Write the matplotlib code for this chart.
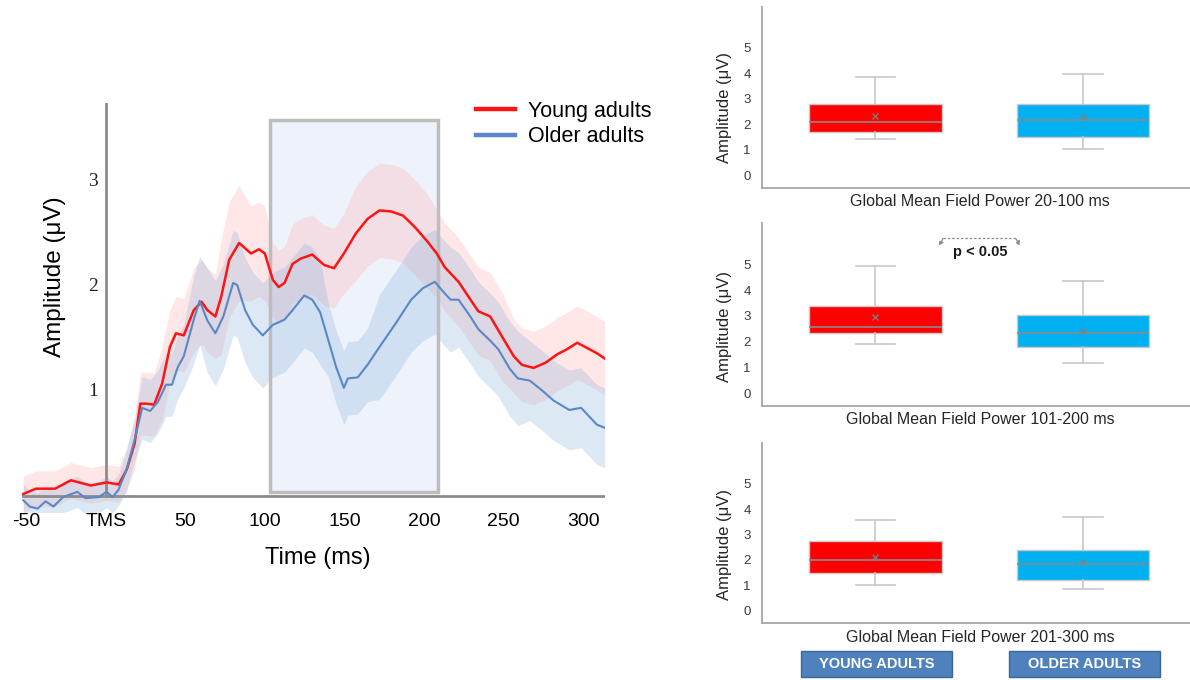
import numpy as np
import matplotlib
matplotlib.use('Agg')
import matplotlib.pyplot as plt
from matplotlib.patches import Rectangle

plt.rcParams['font.family'] = ['Liberation Sans', 'DejaVu Sans']

# ---- TMS-evoked GMFP time course ----
young_t = [-52, -44, -32, -22, -9.5, 0.4, 8, 13, 18, 21.6, 25.3, 30.3, 35.3, 40.2, 44,
           48.9, 55.2, 60.1, 63.8, 68.8, 72.5, 77.5, 83.7, 91.2, 96.2, 99.9, 104.9, 108.6,
           112.3, 117.3, 122.3, 129.7, 137.2, 143.4, 149.6, 157.1, 164.5, 172, 179.4, 186.9,
           194.3, 201.8, 208, 213, 221.7, 234.1, 241.6, 249, 256.5, 261.5, 268.9, 276.4,
           283.8, 290.1, 296.3, 301.3, 308.7, 313.6]
young_v = [0.02, 0.07, 0.07, 0.15, 0.10, 0.13, 0.11, 0.25, 0.50, 0.88, 0.88, 0.87, 1.07,
           1.42, 1.55, 1.53, 1.77, 1.85, 1.77, 1.71, 1.90, 2.25, 2.41, 2.31, 2.35, 2.31, 2.06,
           1.99, 2.03, 2.21, 2.26, 2.30, 2.20, 2.17, 2.31, 2.50, 2.64, 2.72, 2.71, 2.67, 2.56,
           2.43, 2.31, 2.18, 2.04, 1.76, 1.71, 1.52, 1.33, 1.25, 1.22, 1.27, 1.35, 1.40, 1.46,
           1.42, 1.36, 1.31]
young_sem = [0.17] * 7 + [0.2, 0.25] + [0.3] * 3 + [0.35] * 4 + [0.4] * 4 + [0.55] * 3 + \
            [0.45] * 3 + [0.35] * 3 + [0.38] * 6 + [0.45] * 7 + [0.42] * 6 + [0.35] * 10

older_t = [-52, -48, -43, -38, -33, -27, -18, -13, -4.5, 0.4, 4.2, 7.9, 12.9, 17.9, 22.8,
           27.8, 32.8, 37.7, 41.5, 45.2, 48.9, 55.2, 58.9, 63.8, 68.8, 73.8, 80, 82.5, 87.5,
           92.4, 98.6, 104.9, 112.3, 117.3, 124.7, 129.7, 134.7, 139.7, 144.7, 149.6, 152.1,
           158.3, 164.5, 172, 182, 191.9, 199.3, 206.8, 213, 216.7, 221.7, 229.1, 234.1,
           241.6, 246.6, 254, 259, 266.4, 273.9, 281.4, 291.3, 298.8, 303.7, 308.7, 313.6]
older_v = [-0.04, -0.10, -0.12, -0.05, -0.10, -0.01, 0.04, -0.02, -0.01, 0.04, -0.01, 0.06,
           0.25, 0.53, 0.84, 0.81, 0.90, 1.06, 1.06, 1.23, 1.33, 1.68, 1.86, 1.67, 1.55, 1.71,
           2.03, 2.01, 1.77, 1.63, 1.53, 1.63, 1.68, 1.77, 1.91, 1.87, 1.75, 1.49, 1.23, 1.03,
           1.12, 1.13, 1.25, 1.42, 1.64, 1.87, 1.98, 2.04, 1.93, 1.87, 1.87, 1.71, 1.59, 1.48,
           1.40, 1.21, 1.12, 1.10, 1.01, 0.91, 0.82, 0.84, 0.76, 0.68, 0.65]
older_sem = [0.15] * 12 + [0.2] * 2 + [0.3] * 7 + [0.42] * 2 + [0.5] * 8 + [0.5] * 6 + \
            [0.35] * 6 + [0.5] * 7 + [0.45] * 7 + [0.38] * 8

window_start, window_end = 103, 209      # highlighted window (ms)
xtick_vals = [-50, 0, 50, 100, 150, 200, 250, 300]
xtick_labels = ['-50', 'TMS', '50', '100', '150', '200', '250', '300']
ytick_vals = [1, 2, 3]

# ---- box plot summaries (young, older) per window ----
windows = ['Global Mean Field Power 20-100 ms',
           'Global Mean Field Power 101-200 ms',
           'Global Mean Field Power 201-300 ms']
young_lo = [1.42, 1.90, 1.01]
young_q1 = [1.71, 2.34, 1.48]
young_med = [2.08, 2.56, 2.01]
young_q3 = [2.79, 3.38, 2.73]
young_hi = [3.87, 4.92, 3.58]
young_mean = [2.34, 2.97, 2.10]
older_lo = [1.04, 1.17, 0.84]
older_q1 = [1.51, 1.80, 1.22]
older_med = [2.18, 2.34, 1.85]
older_q3 = [2.79, 3.02, 2.40]
older_hi = [3.96, 4.34, 3.69]
older_mean = [2.30, 2.41, 1.93]
group_names = ['YOUNG ADULTS', 'OLDER ADULTS']

W, H = 1190, 680
fig = plt.figure(figsize=(W / 100, H / 100), dpi=100)


def fx(px):
    return px / W


def fy(py):
    return 1 - py / H


RED = '#ff1414'
BLUE = '#5a88c6'

# ================= left panel =================
ax = fig.add_axes([fx(22), fy(512), fx(605) - fx(22), fy(103) - fy(512)])
ax.set_xlim(-52.8, 313.8)
ax.set_ylim(-0.152, 3.743)
for s in ax.spines.values():
    s.set_visible(False)

ax.axvspan(window_start, window_end, ymin=(0.04 + 0.152) / 3.895, ymax=(3.58 + 0.152) / 3.895,
           facecolor='#eef3fb', edgecolor='none', zorder=1)
ax.add_patch(Rectangle((window_start, 0.04), window_end - window_start, 3.54,
                       facecolor='none', edgecolor='#bdbdbd', lw=2.5, zorder=3))

yt, yv, ys = np.array(young_t), np.array(young_v), np.array(young_sem)
ot, ov, os_ = np.array(older_t), np.array(older_v), np.array(older_sem)
ax.fill_between(yt, yv - ys, yv + ys, color='#ffa3a3', alpha=0.25, lw=0, zorder=2)
ax.fill_between(ot, ov - os_, ov + os_, color='#8db3dd', alpha=0.3, lw=0, zorder=2)

ax.axhline(0, color='#8c8c8c', lw=2, zorder=2.5)
ax.axvline(0, ymin=0.152 / 3.895, ymax=1, color='#8c8c8c', lw=2, zorder=2.5)

ax.plot(yt, yv, color=RED, lw=1.8, zorder=4, label='Young adults')
ax.plot(ot, ov, color=BLUE, lw=1.5, zorder=4, label='Older adults')

ax.set_xticks(xtick_vals, xtick_labels)
ax.tick_params(axis='x', length=0, pad=1, labelsize=14)
ax.set_yticks([])
for v in ytick_vals:
    ax.text(-5, v, str(v), ha='right', va='center', fontsize=14,
            family='Liberation Serif', color='#222222')

fig.text(fx(55), fy(277), 'Amplitude (μV)', rotation=90, ha='center', va='center',
         fontsize=17.5)
fig.text(fx(318), fy(558), 'Time (ms)', ha='center', va='center', fontsize=17)

leg = ax.legend(loc='upper left', bbox_to_anchor=(fx(476), fy(101)),
                bbox_transform=fig.transFigure, frameon=False, fontsize=15.5,
                handlelength=1.8, handletextpad=0.6, labelspacing=0.2,
                borderpad=0, borderaxespad=0)
for ln in leg.get_lines():
    ln.set_linewidth(3.2)

# ================= right panels =================
panel_px = [(7, 188), (223, 406), (443, 623)]
ylabel_y = [107.5, 326, 544]
xlabel_y = [201.7, 420, 637.3]

for i in range(3):
    top, bot = panel_px[i]
    bx = fig.add_axes([fx(762), fy(bot), fx(1190) - fx(762), fy(top) - fy(bot)])
    stats = [
        dict(whislo=young_lo[i], q1=young_q1[i], med=young_med[i], q3=young_q3[i],
             whishi=young_hi[i], mean=young_mean[i], fliers=[]),
        dict(whislo=older_lo[i], q1=older_q1[i], med=older_med[i], q3=older_q3[i],
             whishi=older_hi[i], mean=older_mean[i], fliers=[]),
    ]
    res = bx.bxp(stats, positions=[1, 2], widths=0.64, capwidths=0.19,
                 patch_artist=True, showmeans=True, showfliers=False,
                 boxprops=dict(edgecolor='#c8c8c8', lw=1),
                 whiskerprops=dict(color='#c8c8c8', lw=1.2),
                 capprops=dict(color='#c8c8c8', lw=1.2),
                 medianprops=dict(color='#8a8a8a', lw=1.2),
                 meanprops=dict(marker='x', markeredgecolor='#808080', markersize=4,
                                markeredgewidth=0.9))
    res['boxes'][0].set_facecolor('#ff0000')
    res['boxes'][1].set_facecolor('#00b0f0')

    bx.set_xlim(0.453, 2.516)
    bx.set_ylim(-0.49, 6.6)
    bx.set_xticks([])
    bx.set_yticks(range(6))
    bx.tick_params(axis='y', length=0, pad=8, labelsize=9.5, labelcolor='#3a3a3a')
    for s in ['top', 'right']:
        bx.spines[s].set_visible(False)
    for s in ['left', 'bottom']:
        bx.spines[s].set_color('#a6a6a6')
        bx.spines[s].set_linewidth(1.3)

    fig.text(fx(725), fy(ylabel_y[i]), 'Amplitude (μV)', rotation=90, ha='center',
             va='center', fontsize=12, color='#262626')
    fig.text(fx(980), fy(xlabel_y[i]), windows[i], ha='center', va='center',
             fontsize=11.5, color='#262626')

    if i == 1:
        x0, x1, y0, y1 = 1.306, 1.696, 5.72, 6.0
        bx.plot([x0 + 0.02, x1 - 0.02], [y1, y1], ls=(0, (2, 1.5)), color='#8c8c8c', lw=0.9)
        for xa, xb in [(x0 + 0.02, x0), (x1 - 0.02, x1)]:
            bx.annotate('', xy=(xb, y0), xytext=(xa, y1),
                        arrowprops=dict(arrowstyle='-|>', color='#8c8c8c', lw=0.9,
                                        mutation_scale=6, linestyle=(0, (2, 1.5)),
                                        shrinkA=0, shrinkB=0))
        bx.text(1.504, 5.49, 'p < 0.05', ha='center', va='center', fontsize=10.5,
                fontweight='bold', color='#1a1a1a')

# group buttons
for name, left in zip(group_names, [801, 1009]):
    fig.patches.append(Rectangle((fx(left), fy(677)), fx(151), 26 / H,
                                 transform=fig.transFigure, facecolor='#4f81bd',
                                 edgecolor='#3b6596', lw=1))
    fig.text(fx(left + 75.5), fy(664), name, ha='center', va='center', color='white',
             fontsize=10.5, fontweight='bold')

fig.savefig('out.png', dpi=100)
